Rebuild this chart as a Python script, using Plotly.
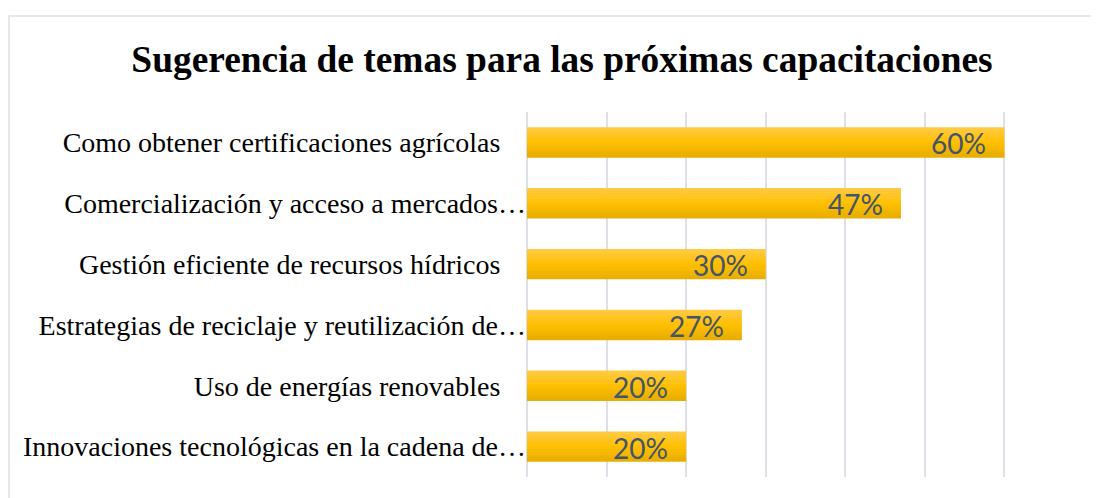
import plotly.graph_objects as go

# data (top to bottom)
temas = [
    "Como obtener certificaciones agrícolas",
    "Comercialización y acceso a mercados…",
    "Gestión eficiente de recursos hídricos",
    "Estrategias de reciclaje y reutilización de…",
    "Uso de energías renovables",
    "Innovaciones tecnológicas en la cadena de…",
]
porcentajes = [0.60, 0.47, 0.30, 0.27, 0.20, 0.20]
etiquetas = ["60%", "47%", "30%", "27%", "20%", "20%"]
truncado = [False, True, False, True, False, True]

# the page body has an 8px margin, so the figure is a bit smaller than the window
OFF = 8
W, H = 1099 - OFF, 498 - OFF
ML, MR, MT, MB = 527 - OFF, 15, 112 - OFF, 21

# full labels get some trailing room, like the Excel original
tick_text = [t if tr else t + "\u00a0" * 3 + "\u2006" for t, tr in zip(temas, truncado)]

fig = go.Figure()

# vertical gradient of the bars, built from thin overlapping strips
stops = [(0.0, (255, 202, 72)), (0.5, (255, 192, 0)), (1.0, (230, 172, 0))]


def grad(t):
    for (t0, c0), (t1, c1) in zip(stops[:-1], stops[1:]):
        if t0 <= t <= t1:
            f = (t - t0) / (t1 - t0)
            return "rgb(%d,%d,%d)" % tuple(round(a + (b - a) * f) for a, b in zip(c0, c1))
    return "rgb(%d,%d,%d)" % stops[-1][1]


bar_w = 0.5
n_strips = 12
step = bar_w / n_strips
for i in range(n_strips):
    fig.add_trace(go.Bar(
        x=porcentajes,
        y=temas,
        orientation="h",
        width=step * 1.25 if i < n_strips - 1 else step,
        offset=-bar_w / 2 + i * step,
        marker=dict(color=grad((i + 0.5) / n_strips), line=dict(width=0)),
        showlegend=False,
        hoverinfo="skip",
    ))

# value labels inside the bar end
for tema, val, lab in zip(temas, porcentajes, etiquetas):
    fig.add_annotation(
        x=val, y=tema, text=lab, showarrow=False,
        xanchor="right", yanchor="middle", xshift=-16, yshift=-1,
        font=dict(family="Lato, Open Sans, sans-serif", size=28, color="#44546A"),
    )

# light chart-area border (top and left visible)
pw = W - ML - MR
ph = H - MT - MB
fig.add_shape(
    type="rect", xref="paper", yref="paper",
    x0=(9 - OFF - ML) / pw, x1=(W + 20 - ML) / pw,
    y0=-(MB + 20) / ph, y1=(H - MB - (16 - OFF)) / ph,
    line=dict(color="#DDE2E8", width=1.5), fillcolor="rgba(0,0,0,0)", layer="below",
)

fig.update_layout(
    width=W, height=H,
    margin=dict(l=ML, r=MR, t=MT, b=MB),
    barmode="overlay",
    plot_bgcolor="white",
    paper_bgcolor="white",
    title=dict(
        text="<b>Sugerencia de temas para las próximas capacitaciones</b>",
        x=(562 - OFF) / W, xref="container", xanchor="center",
        y=1 - (59 - OFF) / H, yref="container", yanchor="middle",
        font=dict(family="Liberation Serif, Times New Roman, serif", size=37.4, color="black"),
    ),
    xaxis=dict(
        range=[0, 0.7], dtick=0.1, showticklabels=False,
        showgrid=True, gridcolor="#DDE1E7", gridwidth=1.5,
        zeroline=True, zerolinecolor="#DDE1E7", zerolinewidth=1.5,
        showline=False, fixedrange=True,
    ),
    yaxis=dict(
        categoryorder="array", categoryarray=temas,
        autorange="reversed",
        tickmode="array", tickvals=temas, ticktext=tick_text,
        ticks="", ticklabelstandoff=0,
        tickfont=dict(family="Liberation Serif, Times New Roman, serif", size=28, color="black"),
        showgrid=False, zeroline=False, showline=False,
    ),
)

fig.write_html("out.html")
